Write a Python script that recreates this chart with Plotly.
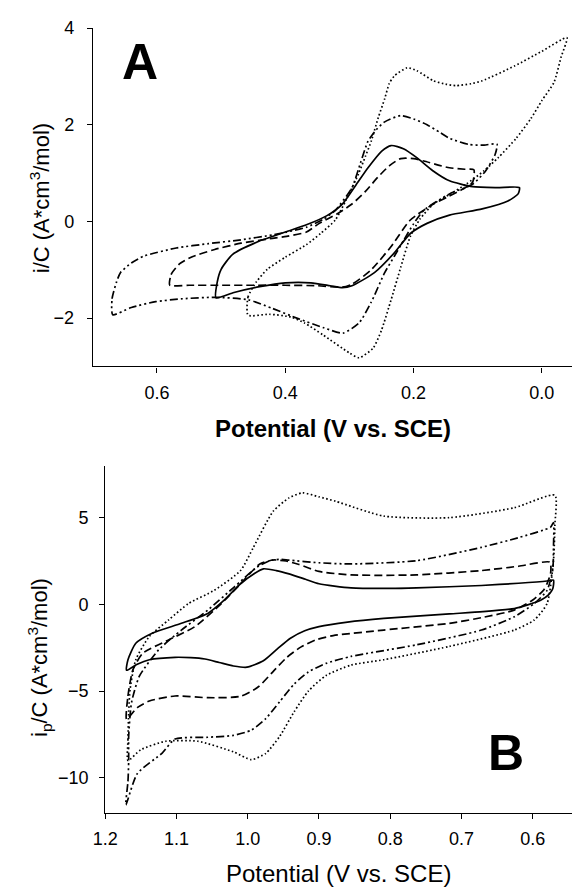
import plotly.graph_objects as go

W, H = 572, 888

# ---------------- Panel A data (Potential V vs SCE, i/C) ----------------
a_solid_x = [0.508, 0.506, 0.500, 0.482, 0.443, 0.400, 0.367, 0.335, 0.311, 0.290, 0.271, 0.250, 0.235, 0.215, 0.195, 0.170, 0.144, 0.108, 0.070, 0.035,
             0.037, 0.052, 0.093, 0.144, 0.179, 0.205, 0.230, 0.261, 0.296, 0.311, 0.330, 0.360, 0.400, 0.440, 0.480, 0.508]
a_solid_y = [-1.58, -1.25, -0.99, -0.68, -0.42, -0.22, -0.07, 0.12, 0.36, 0.75, 1.11, 1.45, 1.57, 1.50, 1.32, 1.05, 0.84, 0.72, 0.70, 0.70,
             0.57, 0.43, 0.26, 0.13, -0.04, -0.25, -0.65, -1.06, -1.33, -1.37, -1.33, -1.27, -1.27, -1.35, -1.47, -1.58]

a_dash_x = [0.580, 0.578, 0.565, 0.545, 0.510, 0.469, 0.420, 0.398, 0.367, 0.347, 0.320, 0.296, 0.275, 0.256, 0.238, 0.220, 0.200, 0.184, 0.160, 0.144, 0.120, 0.106,
            0.108, 0.123, 0.145, 0.169, 0.205, 0.235, 0.266, 0.296, 0.311, 0.350, 0.400, 0.450, 0.500, 0.550, 0.580]
a_dash_y = [-1.32, -1.10, -0.88, -0.73, -0.58, -0.45, -0.35, -0.31, -0.22, -0.04, 0.15, 0.36, 0.62, 0.91, 1.15, 1.30, 1.30, 1.25, 1.16, 1.11, 1.08, 1.07,
            0.81, 0.67, 0.52, 0.36, 0.03, -0.52, -1.00, -1.30, -1.36, -1.33, -1.32, -1.32, -1.32, -1.32, -1.32]

a_ddd_x = [0.669, 0.670, 0.663, 0.657, 0.640, 0.621, 0.570, 0.520, 0.469, 0.420, 0.398, 0.367, 0.340, 0.322, 0.296, 0.283, 0.271, 0.258, 0.245, 0.220, 0.200, 0.179, 0.160, 0.144, 0.113, 0.090, 0.070,
           0.073, 0.088, 0.108, 0.144, 0.184, 0.200, 0.215, 0.230, 0.245, 0.266, 0.285, 0.310, 0.340, 0.380, 0.420, 0.458, 0.510, 0.560, 0.602, 0.640, 0.669]
a_ddd_y = [-1.93, -1.60, -1.25, -1.06, -0.86, -0.72, -0.55, -0.46, -0.38, -0.28, -0.22, -0.12, 0.05, 0.23, 0.70, 1.20, 1.66, 1.90, 2.06, 2.19, 2.12, 2.00, 1.85, 1.72, 1.59, 1.58, 1.60,
           1.38, 1.04, 0.77, 0.57, 0.23, -0.05, -0.38, -0.72, -1.06, -1.67, -2.10, -2.31, -2.20, -2.01, -1.80, -1.62, -1.57, -1.60, -1.66, -1.78, -1.93]

a_dot_x = [0.458, 0.458, 0.445, 0.428, 0.400, 0.367, 0.345, 0.322, 0.305, 0.286, 0.275, 0.266, 0.255, 0.245, 0.238, 0.230, 0.210, 0.195, 0.169, 0.150, 0.134, 0.110, 0.093, 0.042, 0.000, -0.039,
           -0.030, -0.019, 0.000, 0.017, 0.040, 0.068, 0.090, 0.118, 0.145, 0.169, 0.190, 0.205, 0.220, 0.235, 0.250, 0.263, 0.285, 0.300, 0.341, 0.370, 0.391, 0.425, 0.458]
a_dot_y = [-1.94, -1.56, -1.25, -0.99, -0.74, -0.48, -0.25, 0.03, 0.45, 0.98, 1.35, 1.66, 2.15, 2.54, 2.85, 3.01, 3.18, 3.12, 2.91, 2.84, 2.81, 2.85, 2.91, 3.22, 3.52, 3.80,
           3.40, 2.88, 2.50, 2.13, 1.72, 1.32, 1.05, 0.77, 0.55, 0.36, 0.05, -0.31, -0.95, -1.62, -2.25, -2.62, -2.82, -2.72, -2.35, -2.10, -1.98, -1.92, -1.94]

a_xticks = [0.6, 0.4, 0.2, 0.0]
a_yticks = [-2, 0, 2, 4]

# ---------------- Panel B data ----------------
b_solid_x = [1.170, 1.168, 1.157, 1.134, 1.093, 1.056, 1.033, 1.010, 0.990, 0.978, 0.960, 0.942, 0.919, 0.900, 0.855, 0.800, 0.763, 0.672, 0.620, 0.580, 0.571,
             0.572, 0.578, 0.589, 0.605, 0.626, 0.670, 0.717, 0.809, 0.860, 0.900, 0.920, 0.940, 0.958, 0.978, 1.001, 1.020, 1.040, 1.060, 1.080, 1.102, 1.138, 1.155, 1.170]
b_solid_y = [-3.80, -3.19, -2.24, -1.66, -1.09, -0.52, 0.24, 1.19, 1.80, 2.05, 1.95, 1.76, 1.45, 1.19, 0.95, 0.92, 0.95, 1.09, 1.22, 1.35, 1.40,
             0.90, 0.55, 0.24, 0.00, -0.24, -0.42, -0.55, -0.81, -1.02, -1.28, -1.52, -1.95, -2.55, -3.25, -3.62, -3.55, -3.35, -3.15, -3.07, -3.05, -3.19, -3.45, -3.80]

b_dash_x = [1.170, 1.168, 1.161, 1.147, 1.111, 1.074, 1.037, 1.010, 0.983, 0.964, 0.946, 0.928, 0.900, 0.855, 0.763, 0.672, 0.620, 0.576,
            0.575, 0.580, 0.585, 0.600, 0.626, 0.670, 0.717, 0.809, 0.880, 0.905, 0.925, 0.945, 0.965, 0.985, 1.010, 1.056, 1.102, 1.138, 1.155, 1.170]
b_dash_y = [-6.62, -5.28, -3.76, -2.81, -2.05, -1.28, 0.05, 1.19, 2.33, 2.56, 2.50, 2.30, 1.90, 1.70, 1.70, 1.95, 2.20, 2.43,
            1.80, 1.20, 0.81, 0.25, -0.33, -0.75, -1.09, -1.48, -1.80, -2.05, -2.45, -3.05, -3.90, -4.75, -5.30, -5.38, -5.28, -5.57, -5.95, -6.62]

b_ddd_x = [1.171, 1.168, 1.167, 1.167, 1.163, 1.152, 1.125, 1.093, 1.056, 1.019, 0.987, 0.969, 0.955, 0.942, 0.900, 0.855, 0.763, 0.672, 0.620, 0.575, 0.571,
           0.571, 0.572, 0.580, 0.598, 0.626, 0.672, 0.763, 0.855, 0.890, 0.915, 0.935, 0.955, 0.975, 0.995, 1.020, 1.056, 1.102, 1.120, 1.155, 1.171]
b_ddd_y = [-11.56, -10.20, -9.00, -7.60, -5.66, -4.14, -2.62, -1.48, -0.33, 1.00, 2.14, 2.52, 2.60, 2.55, 2.40, 2.33, 2.52, 3.29, 3.85, 4.45, 4.71,
           3.29, 2.00, 0.81, 0.05, -0.71, -1.48, -2.33, -3.00, -3.40, -3.90, -4.60, -5.60, -6.60, -7.25, -7.55, -7.66, -7.76, -8.57, -9.76, -11.56]

b_dot_x = [1.168, 1.168, 1.167, 1.165, 1.157, 1.138, 1.111, 1.083, 1.047, 1.010, 0.992, 0.964, 0.942, 0.923, 0.900, 0.877, 0.809, 0.717, 0.626, 0.569,
           0.569, 0.571, 0.580, 0.598, 0.626, 0.717, 0.809, 0.855, 0.890, 0.915, 0.935, 0.955, 0.975, 0.995, 1.020, 1.070, 1.115, 1.150, 1.168]
b_dot_y = [-9.00, -7.80, -6.20, -4.90, -3.19, -1.85, -0.90, 0.05, 0.81, 1.95, 3.29, 5.38, 6.14, 6.43, 6.20, 5.95, 5.09, 5.00, 5.57, 6.29,
           4.60, 2.50, 0.05, -0.90, -1.48, -2.42, -3.19, -3.50, -4.10, -5.00, -6.20, -7.60, -8.60, -8.95, -8.50, -7.89, -7.89, -8.38, -9.00]

b_xticks = [1.2, 1.1, 1.0, 0.9, 0.8, 0.7, 0.6]
b_yticks = [-10, -5, 0, 5]

FONT = "Liberation Sans, Arial, sans-serif"
DASH = {
    "solid": "solid",
    "dashed": "8px,4px",
    "ddd": "8px,3px,2px,3px,2px,3px",
    "dotted": "1.6px,2.4px",
}

fig = go.Figure()

def add(xs, ys, style, xa, ya):
    fig.add_trace(go.Scatter(
        x=xs, y=ys, mode="lines", xaxis=xa, yaxis=ya,
        line=dict(color="black", width=1.7, dash=DASH[style], shape="spline", smoothing=0.6),
        hoverinfo="skip", showlegend=False))

add(a_solid_x, a_solid_y, "solid", "x", "y")
add(a_dash_x, a_dash_y, "dashed", "x", "y")
add(a_ddd_x, a_ddd_y, "ddd", "x", "y")
add(a_dot_x, a_dot_y, "dotted", "x", "y")

add(b_solid_x, b_solid_y, "solid", "x2", "y2")
add(b_dash_x, b_dash_y, "dashed", "x2", "y2")
add(b_ddd_x, b_ddd_y, "ddd", "x2", "y2")
add(b_dot_x, b_dot_y, "dotted", "x2", "y2")

def px(x):
    return x / W

def py(y):
    return 1 - y / H

axis_common = dict(showline=True, linecolor="black", linewidth=1.2, ticks="outside", ticklen=5,
                   tickwidth=1, tickcolor="black", showgrid=False, zeroline=False,
                   tickfont=dict(family=FONT, size=18, color="black"))

fig.update_layout(
    width=W, height=H,
    margin=dict(l=0, r=0, t=0, b=0),
    paper_bgcolor="white", plot_bgcolor="white",
    showlegend=False,
    xaxis=dict(domain=[px(81.7), 1.0], anchor="y", range=[0.7, -0.047],
               tickvals=a_xticks, tickformat=".1f", ticklabelstandoff=5, **axis_common),
    yaxis=dict(domain=[py(360.5), py(18.3)], anchor="x", range=[-3, 4],
               tickvals=a_yticks, ticklabelstandoff=9, **axis_common),
    xaxis2=dict(domain=[px(94.3), 1.0], anchor="y2", range=[1.2, 0.545],
                tickvals=b_xticks, tickformat=".1f", ticklabelstandoff=5, **axis_common),
    yaxis2=dict(domain=[py(811.7), py(460.8)], anchor="x2", range=[-12, 8],
                tickvals=b_yticks, ticklabelstandoff=7, **axis_common),
)

def ann(text, x, y, size, angle=0):
    fig.add_annotation(text=text, x=px(x), y=py(y), xref="paper", yref="paper",
                       showarrow=False, textangle=angle, xanchor="center", yanchor="middle",
                       font=dict(family=FONT, size=size, color="black"))

ann("<b>A</b>", 130, 53, 50)
ann("<b>B</b>", 504, 751, 50)
ann("<b>Potential (V vs. SCE)</b>", 327, 423, 24)
ann("Potential (V vs. SCE)", 333, 873, 24)
ann("i/C (A*cm<sup>3</sup>/mol)", 27, 190, 22, -90)
ann("i<sub>p</sub>/C (A*cm<sup>3</sup>/mol)", 27, 655, 22, -90)

fig.write_html("out.html")
